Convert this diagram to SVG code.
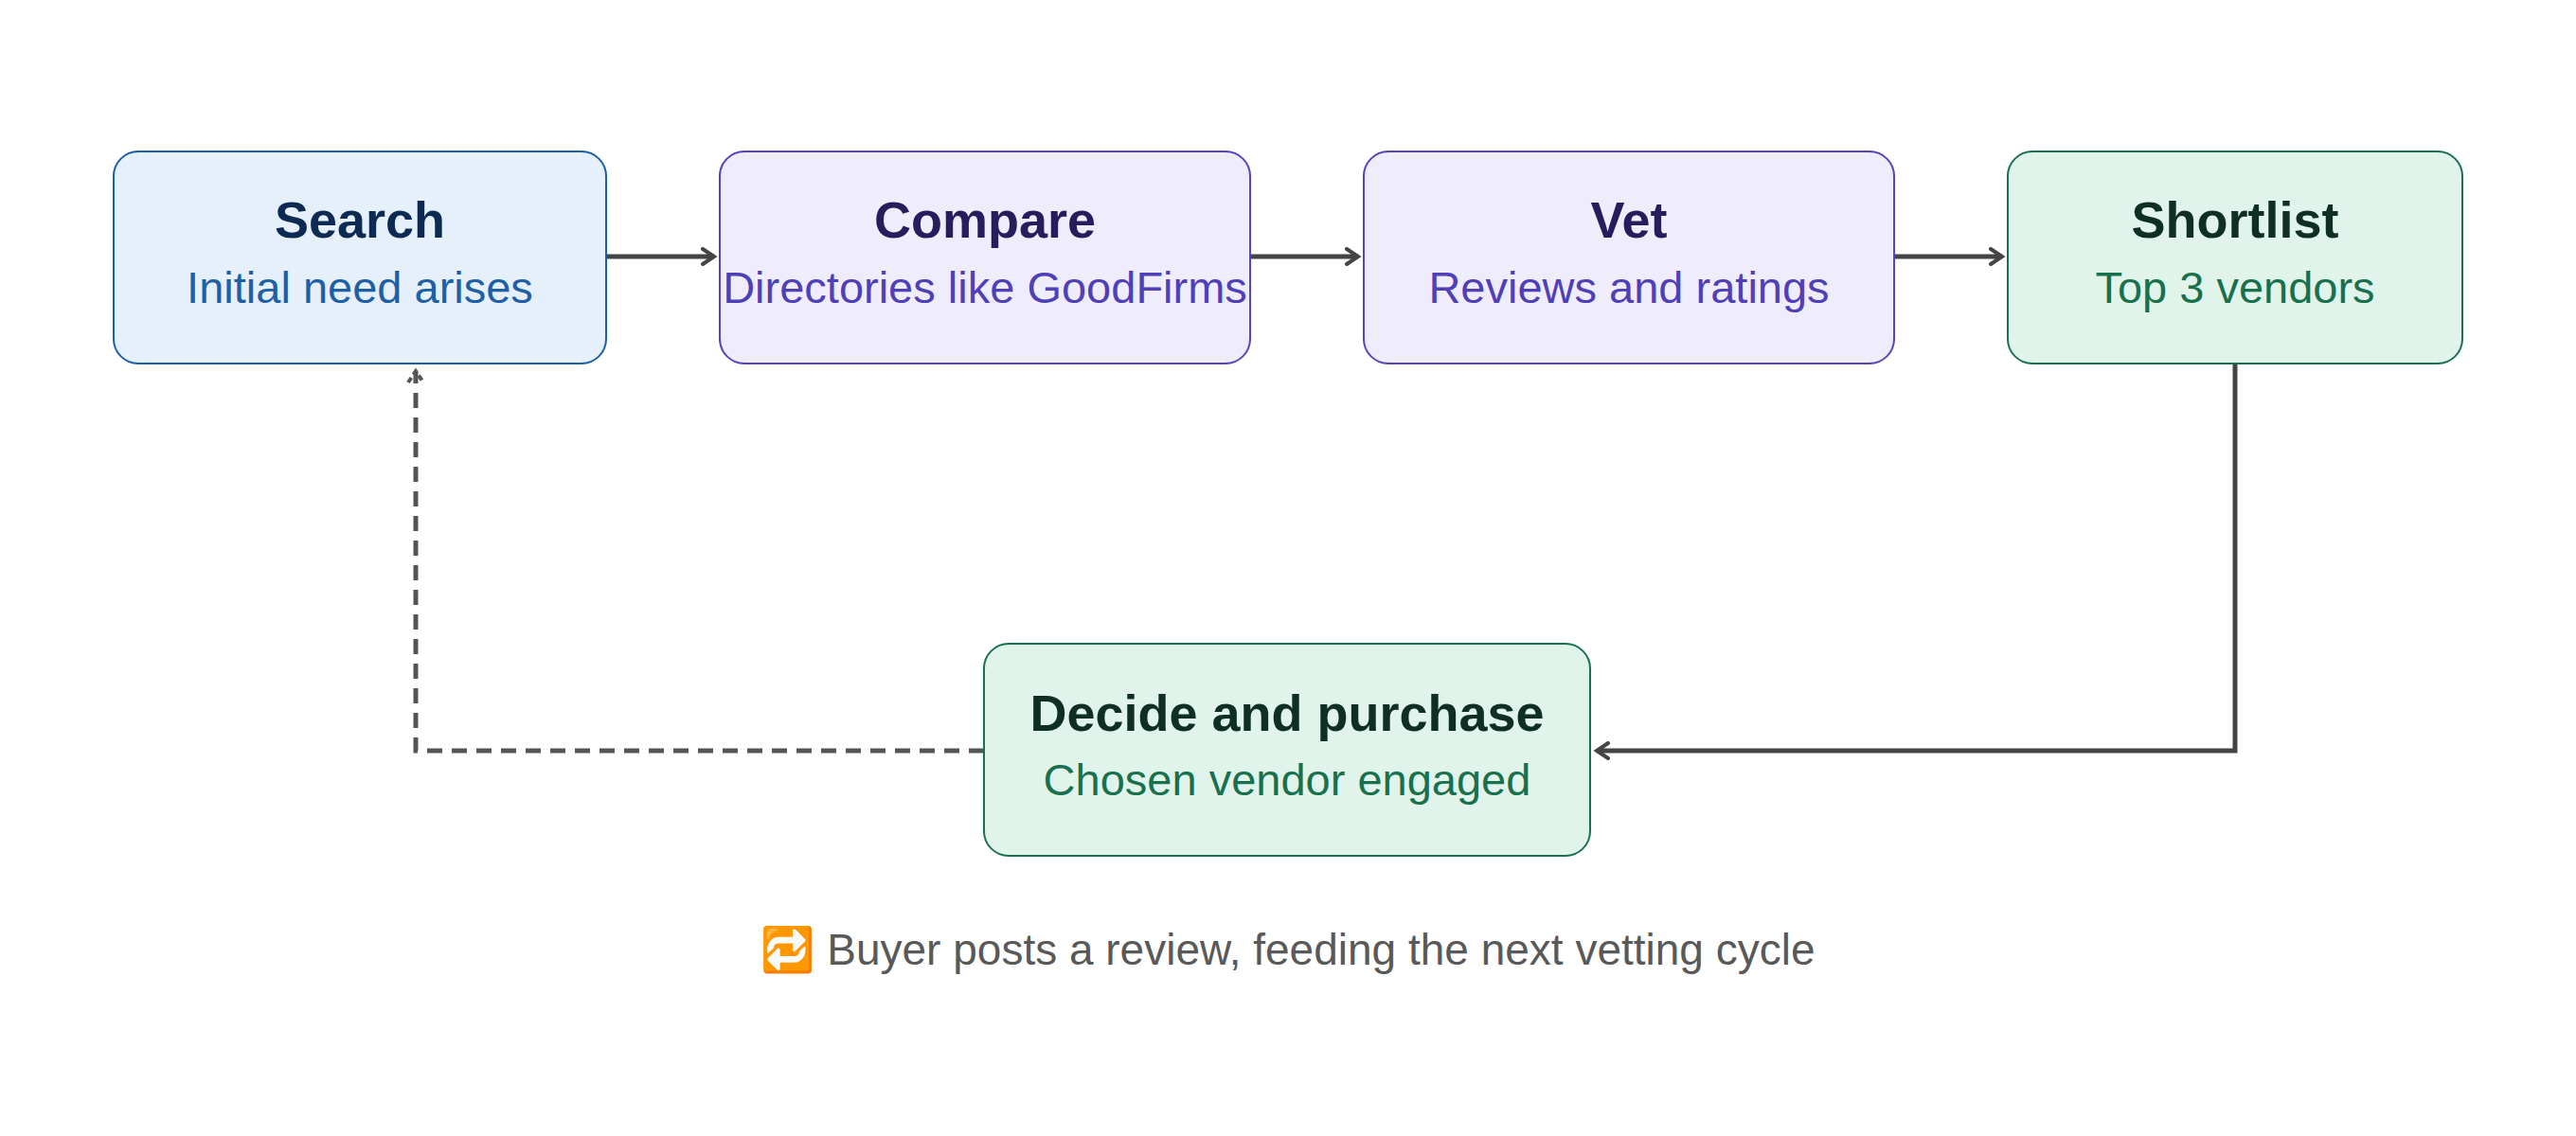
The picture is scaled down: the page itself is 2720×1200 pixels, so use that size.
<svg xmlns="http://www.w3.org/2000/svg" width="2720" height="1200" viewBox="0 0 2720 1200">
<style>
text{font-family:"Liberation Sans",Arial,sans-serif;text-anchor:middle}
.t{font-size:54px;font-weight:bold}
.s{font-size:47px}
.b{stroke-width:2}
.c{fill:none;stroke:#444;stroke-width:5}
</style>
<defs>
<marker id="a" viewBox="0 0 20 20" refX="16" refY="10" markerWidth="20" markerHeight="20" markerUnits="userSpaceOnUse" orient="auto"><path d="M4 2 L16 10 L4 18" fill="none" stroke="#444" stroke-width="4" stroke-linecap="round"/></marker>
<marker id="d" viewBox="0 0 20 20" refX="16" refY="10" markerWidth="20" markerHeight="20" markerUnits="userSpaceOnUse" orient="auto"><path d="M4 2 L16 10 L4 18" fill="none" stroke="#555" stroke-width="4" stroke-dasharray="6 4"/></marker>
</defs>
<rect width="2720" height="1200" fill="#fff"/>
<g id="connectors">
<path class="c" d="M640 271 H754" marker-end="url(#a)"/>
<path class="c" d="M1320 271 H1434" marker-end="url(#a)"/>
<path class="c" d="M2000 271 H2114" marker-end="url(#a)"/>
<path class="c" d="M2360 384 V793 H1686" marker-end="url(#a)"/>
<path d="M1039 793 H439 V392" fill="none" stroke="#555" stroke-width="5" stroke-dasharray="16 10" marker-end="url(#d)"/>
</g>
<g id="search"><rect class="b" x="120" y="160" width="520" height="224" rx="26" fill="#e6f0fa" stroke="#1a5fa8"/><text class="t" x="380" y="251" fill="#0d2b52">Search</text><text class="s" x="380" y="320" fill="#1f5fa6">Initial need arises</text></g>
<g id="compare"><rect class="b" x="760" y="160" width="560" height="224" rx="26" fill="#efedfc" stroke="#5544bb"/><text class="t" x="1040" y="251" fill="#261e5c">Compare</text><text class="s" x="1040" y="320" fill="#5040b8">Directories like GoodFirms</text></g>
<g id="vet"><rect class="b" x="1440" y="160" width="560" height="224" rx="26" fill="#efedfc" stroke="#5544bb"/><text class="t" x="1720" y="251" fill="#261e5c">Vet</text><text class="s" x="1720" y="320" fill="#5040b8">Reviews and ratings</text></g>
<g id="shortlist"><rect class="b" x="2120" y="160" width="480" height="224" rx="26" fill="#e1f4ec" stroke="#1a7050"/><text class="t" x="2360" y="251" fill="#0f2e25">Shortlist</text><text class="s" x="2360" y="320" fill="#18704c">Top 3 vendors</text></g>
<g id="decide"><rect class="b" x="1039" y="680" width="640" height="224" rx="26" fill="#e1f4ec" stroke="#1a7050"/><text class="t" x="1359" y="772" fill="#0f2e25">Decide and purchase</text><text class="s" x="1359" y="840" fill="#18704c">Chosen vendor engaged</text></g>
<text x="1360" y="1019" font-size="46" fill="#595959">🔁 Buyer posts a review, feeding the next vetting cycle</text>
</svg>
